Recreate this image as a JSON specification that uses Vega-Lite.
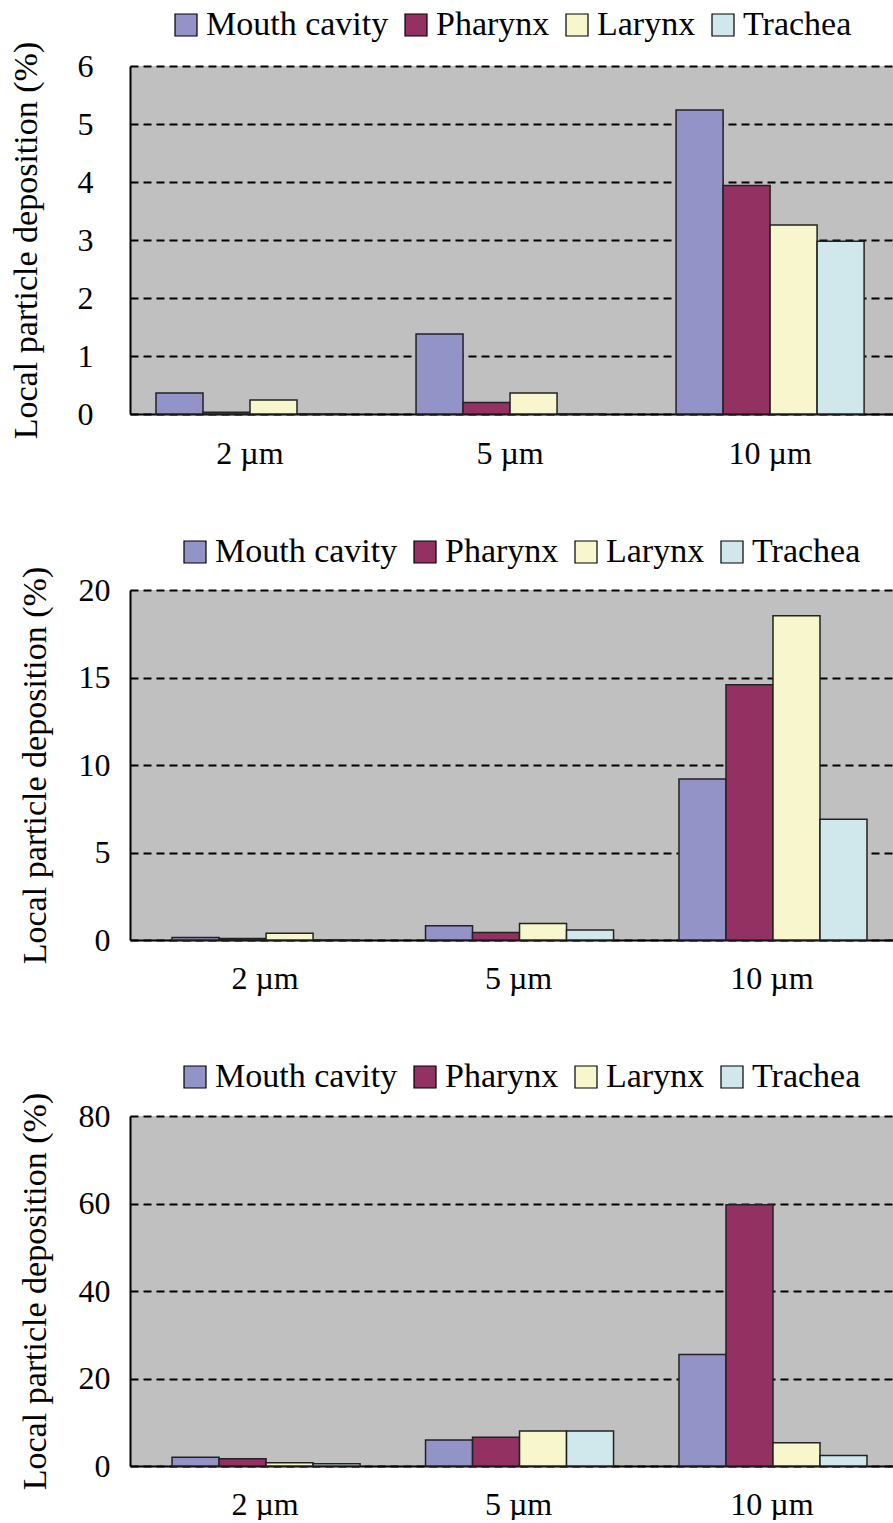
{
  "$schema": "https://vega.github.io/schema/vega-lite/v6.json",
  "padding": {"left": 9, "top": 8, "right": 0, "bottom": 0},
  "background": "white",
  "columns": 1,
  "align": "none",
  "bounds": "full",
  "spacing": 66,
  "config": {
    "font": "Liberation Serif",
    "view": {"fill": "#C0C0C0", "stroke": null},
    "axis": {"labelFont": "Liberation Serif", "titleFont": "Liberation Serif", "labelColor": "black", "titleColor": "black", "titleFontWeight": "normal", "domainColor": "black", "domainWidth": 2, "ticks": false},
    "legend": {"labelFont": "Liberation Serif", "labelColor": "black", "labelFontSize": 34, "symbolType": "square", "symbolSize": 484, "symbolStrokeColor": "black", "symbolStrokeWidth": 1.2, "symbolOpacity": 1, "labelOffset": 3, "columnPadding": 10, "direction": "horizontal", "orient": "none", "title": null, "labelLimit": 400}
  },
  "datasets": {
    "p1": [
      {"size": "2 µm", "region": "Mouth cavity", "value": 0.36},
      {"size": "2 µm", "region": "Pharynx", "value": 0.03},
      {"size": "2 µm", "region": "Larynx", "value": 0.24},
      {"size": "2 µm", "region": "Trachea", "value": 0},
      {"size": "5 µm", "region": "Mouth cavity", "value": 1.38},
      {"size": "5 µm", "region": "Pharynx", "value": 0.2},
      {"size": "5 µm", "region": "Larynx", "value": 0.36},
      {"size": "5 µm", "region": "Trachea", "value": 0},
      {"size": "10 µm", "region": "Mouth cavity", "value": 5.24},
      {"size": "10 µm", "region": "Pharynx", "value": 3.94},
      {"size": "10 µm", "region": "Larynx", "value": 3.26},
      {"size": "10 µm", "region": "Trachea", "value": 2.98}
    ],
    "p2": [
      {"size": "2 µm", "region": "Mouth cavity", "value": 0.15},
      {"size": "2 µm", "region": "Pharynx", "value": 0.09},
      {"size": "2 µm", "region": "Larynx", "value": 0.38},
      {"size": "2 µm", "region": "Trachea", "value": 0},
      {"size": "5 µm", "region": "Mouth cavity", "value": 0.82},
      {"size": "5 µm", "region": "Pharynx", "value": 0.43},
      {"size": "5 µm", "region": "Larynx", "value": 0.95},
      {"size": "5 µm", "region": "Trachea", "value": 0.57},
      {"size": "10 µm", "region": "Mouth cavity", "value": 9.2},
      {"size": "10 µm", "region": "Pharynx", "value": 14.58},
      {"size": "10 µm", "region": "Larynx", "value": 18.53},
      {"size": "10 µm", "region": "Trachea", "value": 6.9}
    ],
    "p3": [
      {"size": "2 µm", "region": "Mouth cavity", "value": 2.0},
      {"size": "2 µm", "region": "Pharynx", "value": 1.67},
      {"size": "2 µm", "region": "Larynx", "value": 0.76},
      {"size": "2 µm", "region": "Trachea", "value": 0.53},
      {"size": "5 µm", "region": "Mouth cavity", "value": 5.94},
      {"size": "5 µm", "region": "Pharynx", "value": 6.55},
      {"size": "5 µm", "region": "Larynx", "value": 8.0},
      {"size": "5 µm", "region": "Trachea", "value": 8.0},
      {"size": "10 µm", "region": "Mouth cavity", "value": 25.5},
      {"size": "10 µm", "region": "Pharynx", "value": 59.7},
      {"size": "10 µm", "region": "Larynx", "value": 5.3},
      {"size": "10 µm", "region": "Trachea", "value": 2.4}
    ]
  },
  "resolve": {"scale": {"color": "independent", "y": "independent", "x": "independent"}, "legend": {"color": "independent"}},
  "concat": [
    {
      "width": 770, "height": 348,
      "data": {"name": "p1"},
      "mark": {"type": "bar", "stroke": "#222222", "strokeWidth": 1.5},
      "encoding": {
        "x": {"field": "size", "type": "nominal", "sort": ["2 µm", "5 µm", "10 µm"], "scale": {"paddingInner": 0.277, "paddingOuter": 0.119, "align": 0.42}, "axis": {"title": null, "labelAngle": 0, "labelFontSize": 32, "labelPadding": 24}},
        "xOffset": {"field": "region", "type": "nominal", "sort": ["Mouth cavity", "Pharynx", "Larynx", "Trachea"], "scale": {"paddingInner": 0, "paddingOuter": 0}},
        "y": {"field": "value", "type": "quantitative", "scale": {"domain": [0, 6], "nice": false}, "axis": {"title": "Local particle deposition (%)", "titleFontSize": 34, "titlePadding": 34, "values": [0, 1, 2, 3, 4, 5, 6], "labelFontSize": 32, "labelPadding": 37, "grid": true, "gridColor": "black", "gridDash": [8, 5], "gridWidth": 2}},
        "color": {"field": "region", "type": "nominal", "sort": ["Mouth cavity", "Pharynx", "Larynx", "Trachea"], "scale": {"domain": ["Mouth cavity", "Pharynx", "Larynx", "Trachea"], "range": ["#9393C7", "#933162", "#F8F6CC", "#D0E8EC"]}, "legend": {"legendX": 39, "legendY": -58}}
      }
    },
    {
      "width": 770, "height": 350,
      "data": {"name": "p2"},
      "mark": {"type": "bar", "stroke": "#222222", "strokeWidth": 1.5},
      "encoding": {
        "x": {"field": "size", "type": "nominal", "sort": ["2 µm", "5 µm", "10 µm"], "scale": {"paddingInner": 0.266, "paddingOuter": 0.152, "align": 0.546}, "axis": {"title": null, "labelAngle": 0, "labelFontSize": 32, "labelPadding": 23}},
        "xOffset": {"field": "region", "type": "nominal", "sort": ["Mouth cavity", "Pharynx", "Larynx", "Trachea"], "scale": {"paddingInner": 0, "paddingOuter": 0}},
        "y": {"field": "value", "type": "quantitative", "scale": {"domain": [0, 20], "nice": false}, "axis": {"title": "Local particle deposition (%)", "titleFontSize": 34, "titlePadding": 26, "values": [0, 5, 10, 15, 20], "labelFontSize": 32, "labelPadding": 20, "grid": true, "gridColor": "black", "gridDash": [8, 5], "gridWidth": 2}},
        "color": {"field": "region", "type": "nominal", "sort": ["Mouth cavity", "Pharynx", "Larynx", "Trachea"], "scale": {"domain": ["Mouth cavity", "Pharynx", "Larynx", "Trachea"], "range": ["#9393C7", "#933162", "#F8F6CC", "#D0E8EC"]}, "legend": {"legendX": 48, "legendY": -55}}
      }
    },
    {
      "width": 770, "height": 350,
      "data": {"name": "p3"},
      "mark": {"type": "bar", "stroke": "#222222", "strokeWidth": 1.5},
      "encoding": {
        "x": {"field": "size", "type": "nominal", "sort": ["2 µm", "5 µm", "10 µm"], "scale": {"paddingInner": 0.266, "paddingOuter": 0.152, "align": 0.546}, "axis": {"title": null, "labelAngle": 0, "labelFontSize": 32, "labelPadding": 23}},
        "xOffset": {"field": "region", "type": "nominal", "sort": ["Mouth cavity", "Pharynx", "Larynx", "Trachea"], "scale": {"paddingInner": 0, "paddingOuter": 0}},
        "y": {"field": "value", "type": "quantitative", "scale": {"domain": [0, 80], "nice": false}, "axis": {"title": "Local particle deposition (%)", "titleFontSize": 34, "titlePadding": 26, "values": [0, 20, 40, 60, 80], "labelFontSize": 32, "labelPadding": 20, "grid": true, "gridColor": "black", "gridDash": [8, 5], "gridWidth": 2}},
        "color": {"field": "region", "type": "nominal", "sort": ["Mouth cavity", "Pharynx", "Larynx", "Trachea"], "scale": {"domain": ["Mouth cavity", "Pharynx", "Larynx", "Trachea"], "range": ["#9393C7", "#933162", "#F8F6CC", "#D0E8EC"]}, "legend": {"legendX": 48, "legendY": -56}}
      }
    }
  ]
}
